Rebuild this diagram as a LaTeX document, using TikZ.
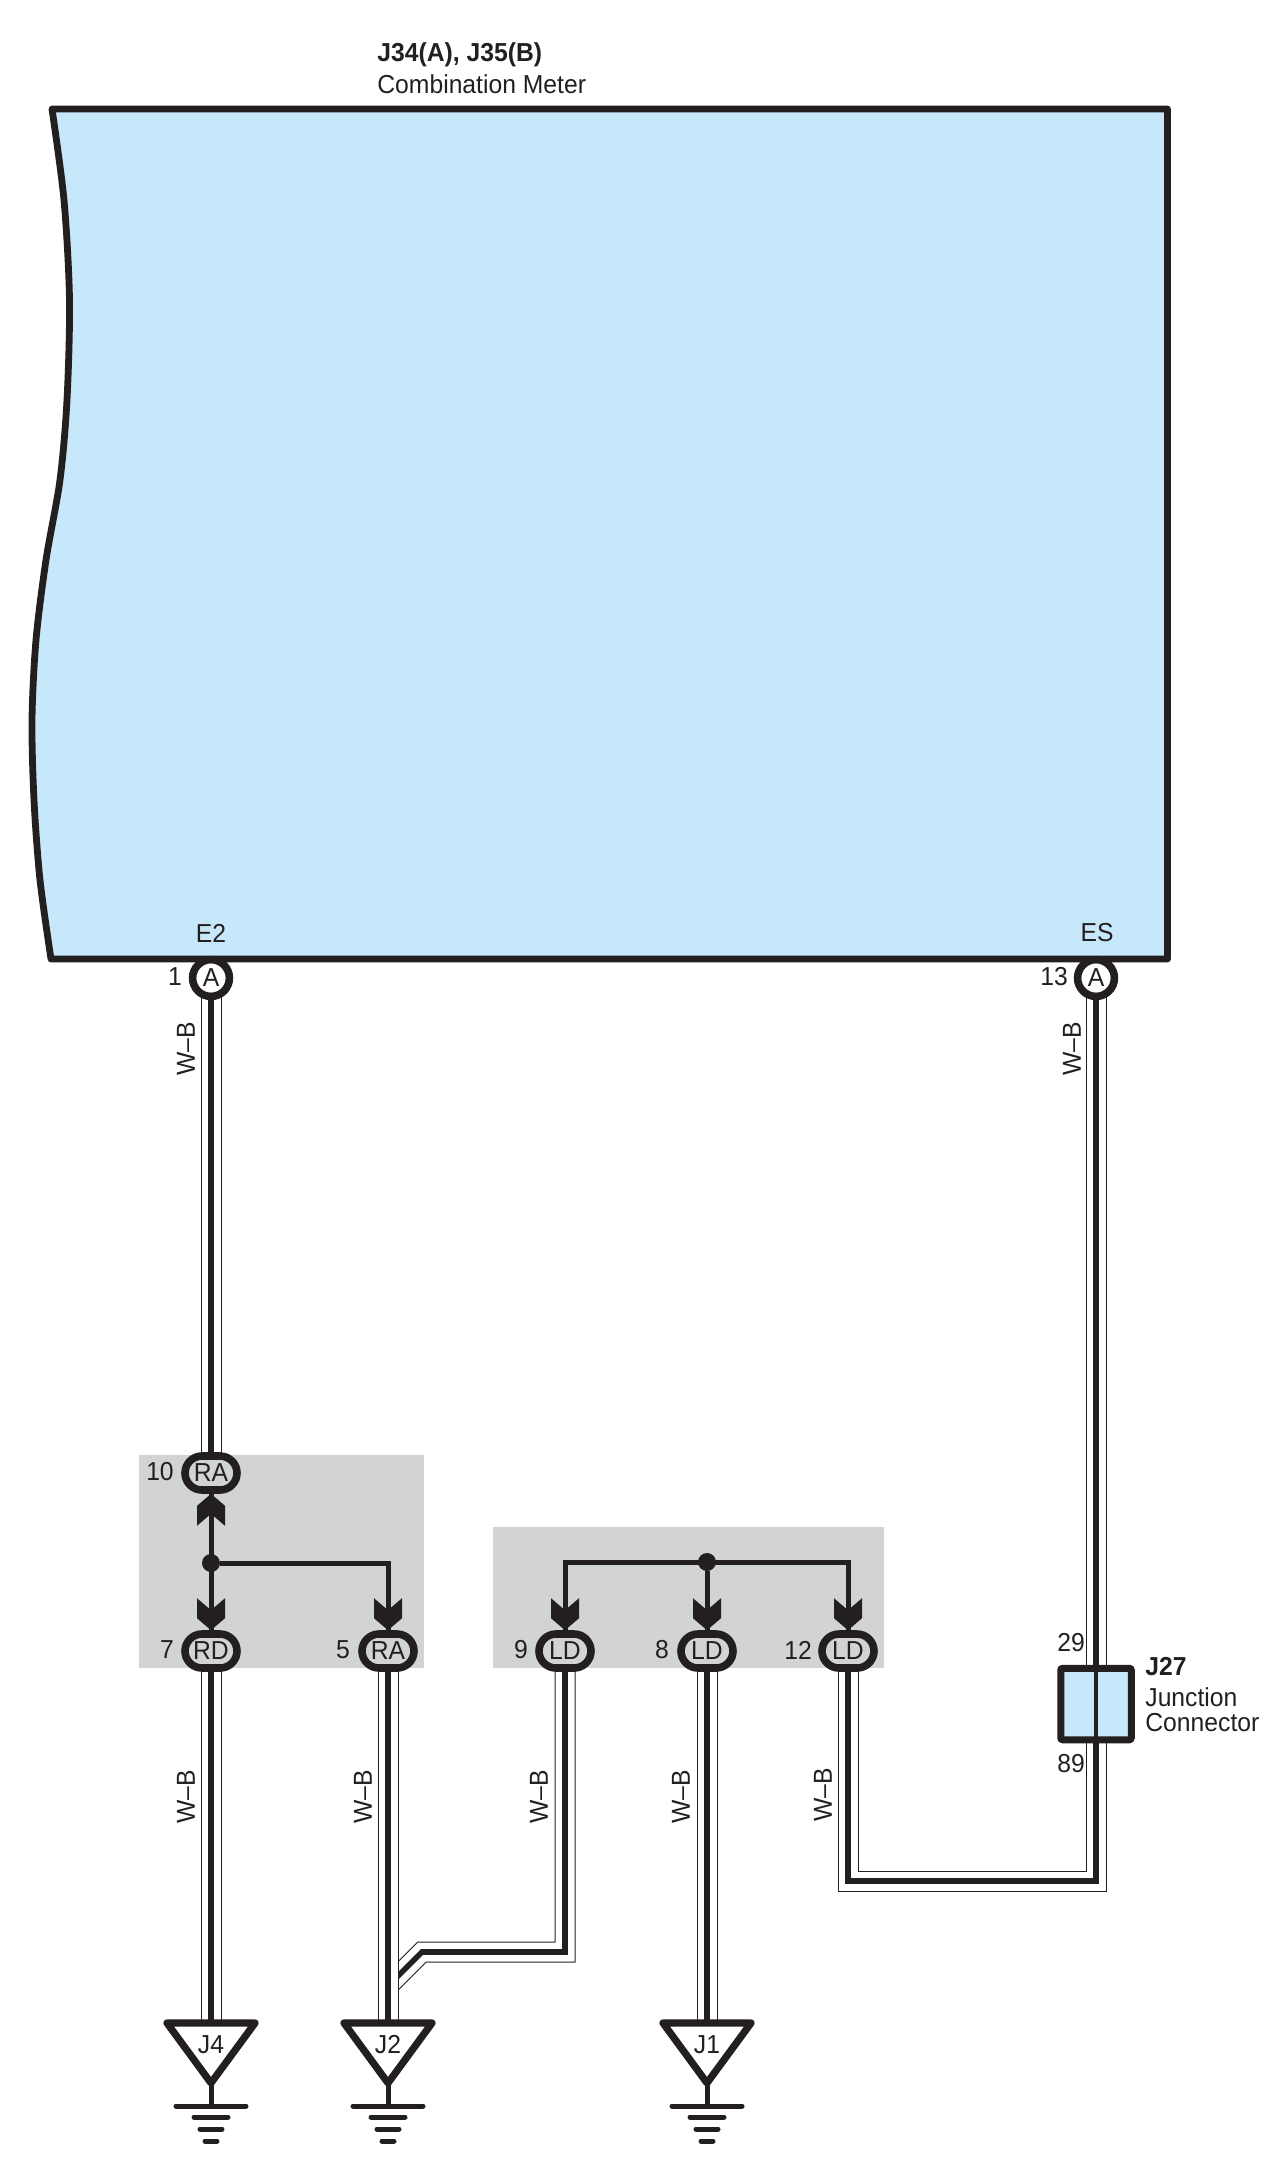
\documentclass[tikz,border=0pt]{standalone}
\usepackage{fontspec}
\setmainfont[FakeStretch=0.95]{Liberation Sans}
\usetikzlibrary{shapes.misc,backgrounds}
\definecolor{inkcol}{HTML}{231F20}
\definecolor{metercol}{HTML}{C7E8FA}
\definecolor{greycol}{HTML}{D1D3D4}
\tikzset{
    lbl/.style={inner sep=0pt, text=inkcol, font=\fontsize{13}{15}\selectfont},
    wire/.style={draw=inkcol, line width=2.8pt,
        preaction={draw=inkcol, line width=10.5pt},
        preaction={draw=white, line width=9.5pt}},
    feed/.style={draw=inkcol, line width=2.5pt},
    oval/.style={lbl, rounded rectangle, draw=inkcol, line width=3.8pt, fill=greycol,
        minimum width=26pt, minimum height=17pt},
    pin/.style={lbl, circle, draw=inkcol, line width=3.8pt, fill=white, minimum size=18.4pt},
    dotnode/.style={circle, fill=inkcol, inner sep=0pt, minimum size=9pt},
    pics/chev/.style={code={
        \fill[inkcol] (0,0) -- (14,-12) -- (14,-32) -- (0,-20) -- (-14,-32) -- (-14,-12) -- cycle;
    }},
    pics/gnd/.style={code={
        \coordinate (-top) at (0,0);
        \draw[inkcol, line width=3.6pt, line join=round, fill=white] (-44,0) -- (44,0) -- (0,60) -- cycle;
        \node[lbl] (-txt) at (0,22){#1};
        \draw[inkcol, line width=2.5pt] (0,60) -- (0,83);
        \draw[inkcol, line width=2.5pt, line cap=round] (-35,83) -- (35,83);
        \draw[inkcol, line width=2.5pt, line cap=round] (-17,94) -- (17,94);
        \draw[inkcol, line width=2.5pt, line cap=round] (-11,106) -- (11,106);
        \draw[inkcol, line width=2.5pt, line cap=round] (-6,118) -- (6,118);
    }},
}
\begin{document}
\begin{tikzpicture}[x=0.5pt, y=-0.5pt]
    \useasboundingbox (0, 0) rectangle (1280, 2176);

    % meter
    \draw[draw=inkcol, fill=metercol, line width=3.4pt, line join=round] (1167.5, 109) -- (1167.5, 959) -- (51, 959)
        -- plot[smooth] coordinates {(51, 959) (40, 880) (34, 800) (32, 720) (36, 640) (46, 560) (60, 480) (67, 400) (69.5, 300) (64, 200) (52, 109)}
        -- cycle;
    \node[lbl, anchor=west, font=\fontsize{13}{15}\bfseries] (title) at (377, 55){J34(A), J35(B)};
    \node[lbl, anchor=west] (titleb) at (377, 84){Combination Meter};
    \node[lbl] (e2) at (211, 933){E2};
    \node[lbl] (es) at (1097, 933){ES};

    % connector ends
    \node[pin] (a1) at (211, 978){A};
    \node[pin] (a13) at (1096, 978){A};
    \node[oval] (ra10) at (211, 1473){RA};
    \node[oval] (rd7) at (211, 1651){RD};
    \node[oval] (ra5) at (388, 1651){RA};
    \node[oval] (ld9) at (565, 1651){LD};
    \node[oval] (ld8) at (707, 1651){LD};
    \node[oval] (ld12) at (848, 1651){LD};
    \node[dotnode] (dotr) at (211, 1563){};
    \node[dotnode] (dotl) at (707, 1562){};

    \pic (gj4) at (211, 2023) {gnd=J4};
    \pic (gj2) at (388, 2023) {gnd=J2};
    \pic (gj1) at (707, 2023) {gnd=J1};

    \node[draw=inkcol, fill=metercol, line width=3.5pt, rounded corners=1pt, minimum width=35.25pt, minimum height=35.75pt] (j27) at (1096, 1704){};
    \draw[inkcol, line width=2pt] (j27.north) -- (j27.south);

    \coordinate (bendl) at (422, 1952);
    \coordinate (joinj) at (388, 1986);
    \coordinate (bendr) at (1096, 1881);

    \begin{scope}[on background layer]
        \fill[greycol] (139, 1455) rectangle (424, 1668);
        \fill[greycol] (493, 1527) rectangle (884, 1668);

        \draw[feed] (ra10.center) -- (rd7.center);
        \draw[feed] (dotr) -| (ra5.center);
        \draw[feed] (ld9.center) |- (ld12.center |- dotl) -- (ld12.center);
        \draw[feed] (dotl) -- (ld8.center);

        \draw[wire] (a1.center) -- (ra10.center);
        \draw[wire] (rd7.center) -- (gj4-top);
        \draw[wire] (ld9.center) |- (bendl) -- (joinj);
        \draw[wire] (ra5.center) -- (gj2-top);
        \draw[wire] (ld8.center) -- (gj1-top);
        \draw[wire] (a13.center) -- (j27.center);
        \draw[wire] (ld12.center) |- (bendr) -- (j27.center);
    \end{scope}

    \pic[rotate=180] at (ra10.south) {chev};
    \pic at (rd7.north) {chev};
    \pic at (ra5.north) {chev};
    \pic at (ld9.north) {chev};
    \pic at (ld8.north) {chev};
    \pic at (ld12.north) {chev};

    % pin numbers
    \node[lbl] (n1) at (175, 977){1};
    \node[lbl] (n13) at (1054, 977){13};
    \node[lbl] (n10) at (160, 1472){10};
    \node[lbl] (n7) at (167, 1650){7};
    \node[lbl] (n5) at (343, 1650){5};
    \node[lbl] (n9) at (521, 1650){9};
    \node[lbl] (n8) at (662, 1650){8};
    \node[lbl] (n12) at (798, 1650){12};
    \node[lbl] (n29) at (1071, 1643){29};
    \node[lbl] (n89) at (1071, 1764){89};

    \node[lbl, anchor=west, font=\fontsize{13}{15}\bfseries] (j27a) at (1145, 1667){J27};
    \node[lbl, anchor=west] (j27b) at (1145, 1697){Junction};
    \node[lbl, anchor=west] (j27c) at (1145, 1723){Connector};

    % wire colours
    \node[lbl, rotate=90] (wa) at (186, 1049){W--B};
    \node[lbl, rotate=90] (wb) at (1072, 1049){W--B};
    \node[lbl, rotate=90] (wc) at (186, 1797){W--B};
    \node[lbl, rotate=90] (wd) at (363, 1797){W--B};
    \node[lbl, rotate=90] (we) at (539, 1797){W--B};
    \node[lbl, rotate=90] (wf) at (681, 1797){W--B};
    \node[lbl, rotate=90] (wg) at (823, 1795){W--B};
\end{tikzpicture}
\end{document}
